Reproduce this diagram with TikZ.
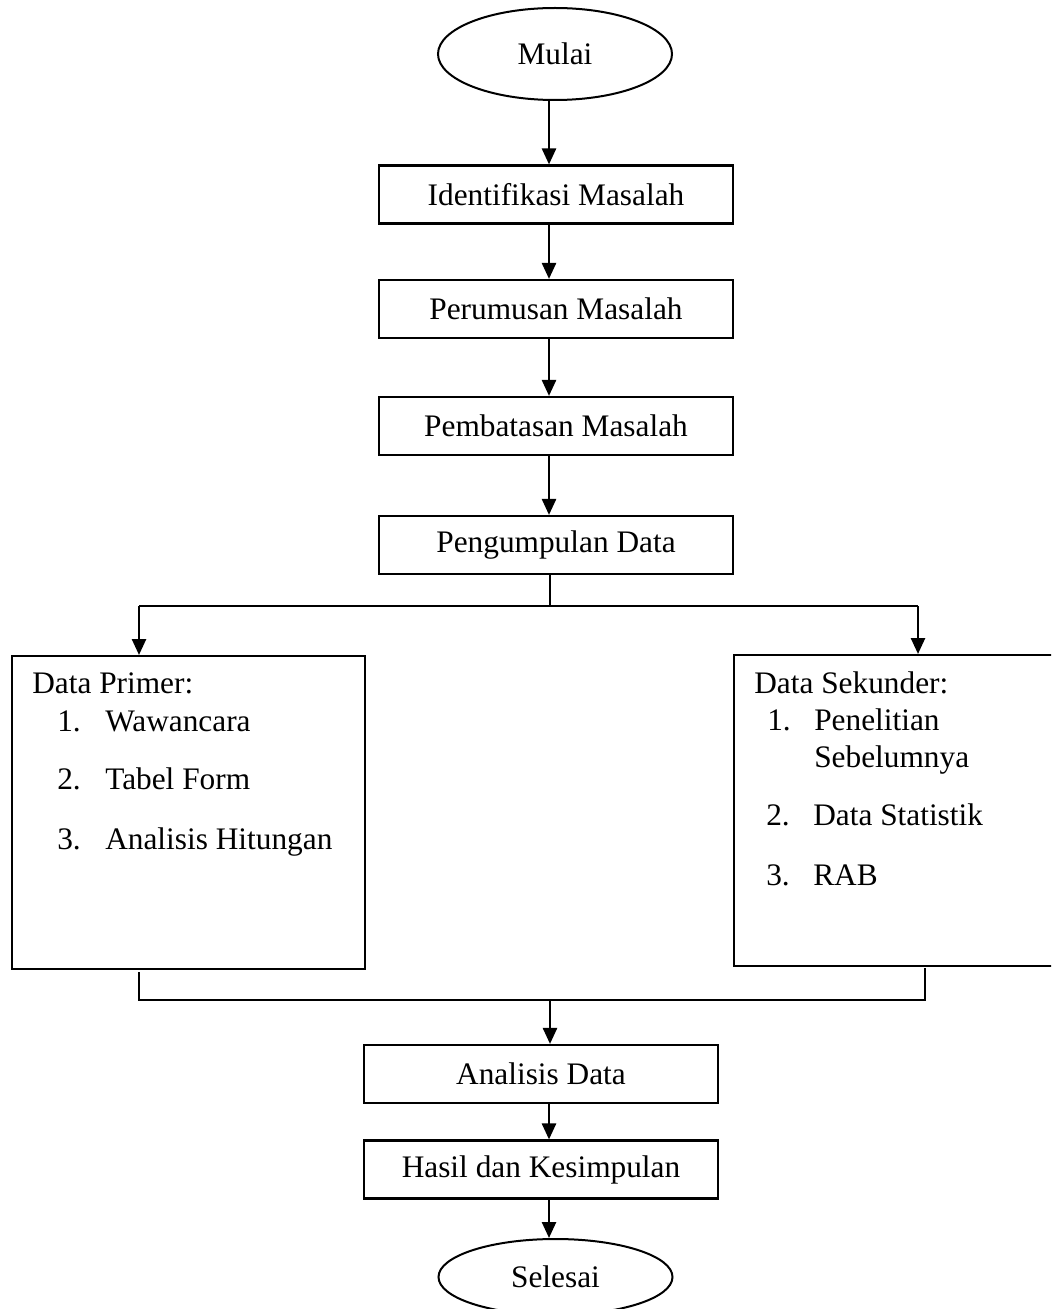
\documentclass[tikz,border=0pt]{standalone}
\usepackage{fontspec}
\setmainfont{Liberation Serif}
\usetikzlibrary{arrows.meta,shapes.geometric}
\begin{document}
\begin{tikzpicture}[x=0.75pt,y=-0.75pt,
  txt/.style={font=\fontsize{23.5pt}{28pt}\selectfont},
  stepbox/.style={draw,line width=1.6pt,rectangle,inner sep=0pt,minimum width=354*0.75pt,minimum height=58*0.75pt,txt},
  term/.style={draw,line width=1.5pt,ellipse,inner sep=0pt,minimum width=234*0.75pt,txt},
  bigbox/.style={draw,line width=1.6pt,rectangle,inner sep=0pt},
  item/.style={anchor=base west,inner sep=0pt,txt},
  arr/.style={line width=1.9pt,-{Triangle[length=12pt,width=10.5pt]}},
  ln/.style={line width=1.9pt}]
\path[use as bounding box] (0,0) rectangle (1051,1309);
\clip (0,0) rectangle (1051,1309);

% terminals and steps
\node[term,minimum height=92*0.75pt] (mulai) at (555,54) {Mulai};
\node[stepbox] (idm) at (556,194.5) {Identifikasi Masalah};
\node[stepbox] (per) at (556,309) {Perumusan Masalah};
\node[stepbox] (pem) at (556,426) {Pembatasan Masalah};
\node[stepbox] (pen) at (556,545) {Pengumpulan Data};
\node[stepbox] (ana) at (541,1074) {Analisis Data};
\node[stepbox] (has) at (541,1169.5) {Hasil dan Kesimpulan};
\node[term,minimum height=76*0.75pt] (sel) at (555.5,1277) {Selesai};

% big boxes
\node[bigbox,minimum width=353*0.75pt,minimum height=313*0.75pt,anchor=north west] (lbox) at (11,655) {};
\node[bigbox,minimum width=330*0.75pt,minimum height=311*0.75pt,anchor=north west] (rbox) at (733,654) {};

% left box text
\node[item] (lt) at (32,693) {Data Primer:};
\node[item] (l1n) at (57,731) {1.};
\node[item] (l1) at (105,731) {Wawancara};
\node[item] (l2n) at (57,789) {2.};
\node[item] (l2) at (105,789) {Tabel Form};
\node[item] (l3n) at (57,849) {3.};
\node[item] (l3) at (105,849) {Analisis Hitungan};

% right box text
\node[item] (rt) at (754,693) {Data Sekunder:};
\node[item] (r1n) at (767,730) {1.};
\node[item] (r1) at (814,730) {Penelitian};
\node[item] (r1b) at (814,767) {Sebelumnya};
\node[item] (r2n) at (766,825) {2.};
\node[item] (r2) at (813,825) {Data Statistik};
\node[item] (r3n) at (766,885) {3.};
\node[item] (r3) at (813,885) {RAB};

% spine coordinates
\coordinate (s1) at (549,100);
\coordinate (split) at (550,606);
\coordinate (sl) at (139,606);
\coordinate (sr) at (918,606);
\coordinate (ml) at (139,972);
\coordinate (mr) at (925,968);
\coordinate (mlb) at (139,1000);
\coordinate (mrb) at (925,1000);
\coordinate (mc) at (550,1000);

% main arrows
\draw[arr] (mulai.south -| s1) -- (idm.north -| s1);
\draw[arr] (idm.south -| s1) -- (per.north -| s1);
\draw[arr] (per.south -| s1) -- (pem.north -| s1);
\draw[arr] (pem.south -| s1) -- (pen.north -| s1);

% split
\draw[ln] (pen.south -| split) -- (split);
\draw[ln] (sl) -- (sr);
\draw[arr] (sl) -- (lbox.north -| sl);
\draw[arr] (sr) -- (rbox.north -| sr);

% merge
\draw[ln] (ml) -- (mlb) -- (mrb) -- (mr);
\draw[arr] (mc) -- (ana.north -| mc);
\draw[arr] (ana.south -| s1) -- (has.north -| s1);
\draw[arr] (has.south -| s1) -- (sel.north -| s1);
\end{tikzpicture}
\end{document}
